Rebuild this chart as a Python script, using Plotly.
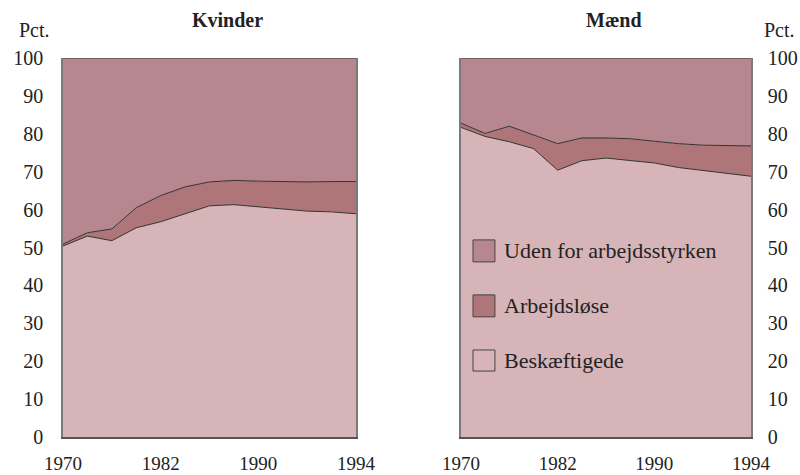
import plotly.graph_objects as go

# ---- data ----
years = [1970, 1972, 1974, 1976, 1978, 1980, 1982, 1984, 1986, 1988, 1990, 1992, 1994]
tick_years = [1970, 1978, 1986, 1994]
tick_labels = ["1970", "1982", "1990", "1994"]

series_names = ["Beskæftigede", "Arbejdsløse", "Uden for arbejdsstyrken"]
series_colors = ["#D6B4B8", "#AF767A", "#B7878F"]

# Kvinder (women)
women_employed = [50.4, 53.0, 51.8, 55.2, 56.8, 58.8, 61.0, 61.3, 60.8, 60.2, 59.6, 59.4, 58.9]
women_unemployed = [0.5, 0.9, 3.1, 5.3, 6.9, 7.2, 6.3, 6.4, 6.7, 7.1, 7.7, 8.0, 8.5]
women_outside = [49.1, 46.1, 45.1, 39.5, 36.3, 34.0, 32.7, 32.3, 32.5, 32.7, 32.7, 32.6, 32.6]

# Mænd (men)
men_employed = [81.7, 79.3, 77.9, 76.1, 70.4, 72.9, 73.6, 73.0, 72.3, 71.1, 70.3, 69.6, 68.8]
men_unemployed = [1.1, 0.8, 4.1, 3.7, 7.0, 6.0, 5.3, 5.7, 5.7, 6.3, 6.7, 7.3, 8.0]
men_outside = [17.2, 19.9, 18.0, 20.2, 22.6, 21.1, 21.1, 21.3, 22.0, 22.6, 23.0, 23.1, 23.2]

FONT = "Liberation Serif, Times New Roman, serif"
TXT = "#222222"

fig = go.Figure()

panels = [
    ("x", "y", "women", [women_employed, women_unemployed, women_outside]),
    ("x2", "y2", "men", [men_employed, men_unemployed, men_outside]),
]
for xa, ya, grp, vals in panels:
    for name, color, v in zip(series_names, series_colors, vals):
        fig.add_trace(go.Scatter(
            x=years, y=v, name=name, xaxis=xa, yaxis=ya,
            stackgroup=grp, mode="lines",
            line=dict(color="#333333", width=1),
            fillcolor=color, showlegend=False,
            hoverinfo="x+y+name",
        ))

axis_common = dict(range=[1970, 1994], tickvals=tick_years, ticktext=tick_labels,
                   showgrid=False, zeroline=False, showline=True, automargin=False,
                   linecolor="#555555", linewidth=2, ticks="",
                   tickfont=dict(family=FONT, size=19, color=TXT),
                   ticklabelstandoff=8)
yaxis_common = dict(range=[0, 100], tickvals=list(range(0, 101, 10)),
                    showgrid=False, zeroline=False, showline=True, mirror=True,
                    automargin=False,
                    linecolor="#7a7a7a", linewidth=1.5, ticks="",
                    tickfont=dict(family=FONT, size=20, color=TXT))

fig.update_layout(
    width=800, height=475,
    margin=dict(l=63, r=49, t=58, b=38, autoexpand=False),
    paper_bgcolor="white", plot_bgcolor="white",
    showlegend=False,
    xaxis=dict(domain=[0, 0.4259], anchor="y", **axis_common),
    xaxis2=dict(domain=[0.5785, 1], anchor="y2", **axis_common),
    yaxis=dict(anchor="x", side="left", ticklabelstandoff=14, **yaxis_common),
    yaxis2=dict(anchor="x2", side="right", ticklabelstandoff=11, **yaxis_common),
)

# titles and unit labels
for text, x, y, size in [("<b>Kvinder</b>", 0.2398, 1.100, 20),
                         ("<b>Mænd</b>", 0.801, 1.100, 20),
                         ("Pct.", -0.0407, 1.074, 20),
                         ("Pct.", 1.042, 1.074, 20)]:
    fig.add_annotation(text=text, x=x, y=y, xref="paper", yref="paper",
                       xanchor="center", yanchor="middle", showarrow=False,
                       font=dict(family=FONT, size=size, color=TXT))

# legend drawn inside the right panel (top to bottom: outside, unemployed, employed)
legend_rows = [(0.520, 0.462), (0.375, 0.317), (0.2296, 0.174)]
for (y1, y0), name, color in zip(legend_rows, series_names[::-1], series_colors[::-1]):
    fig.add_shape(type="rect", xref="x2 domain", yref="y2 domain",
                  x0=0.0414, x1=0.117, y0=y0, y1=y1,
                  fillcolor=color, line=dict(color="#444444", width=1))
    fig.add_annotation(text=name, xref="x2 domain", yref="y2 domain",
                       x=0.141, y=(y0 + y1) / 2, xanchor="left", yanchor="middle",
                       showarrow=False, font=dict(family=FONT, size=22, color=TXT))

fig.write_html(
    "out.html",
    config={"displayModeBar": False},
    post_script="document.body.style.margin='0px';document.body.style.padding='0px';"
                "document.documentElement.style.overflow='hidden';",
)
